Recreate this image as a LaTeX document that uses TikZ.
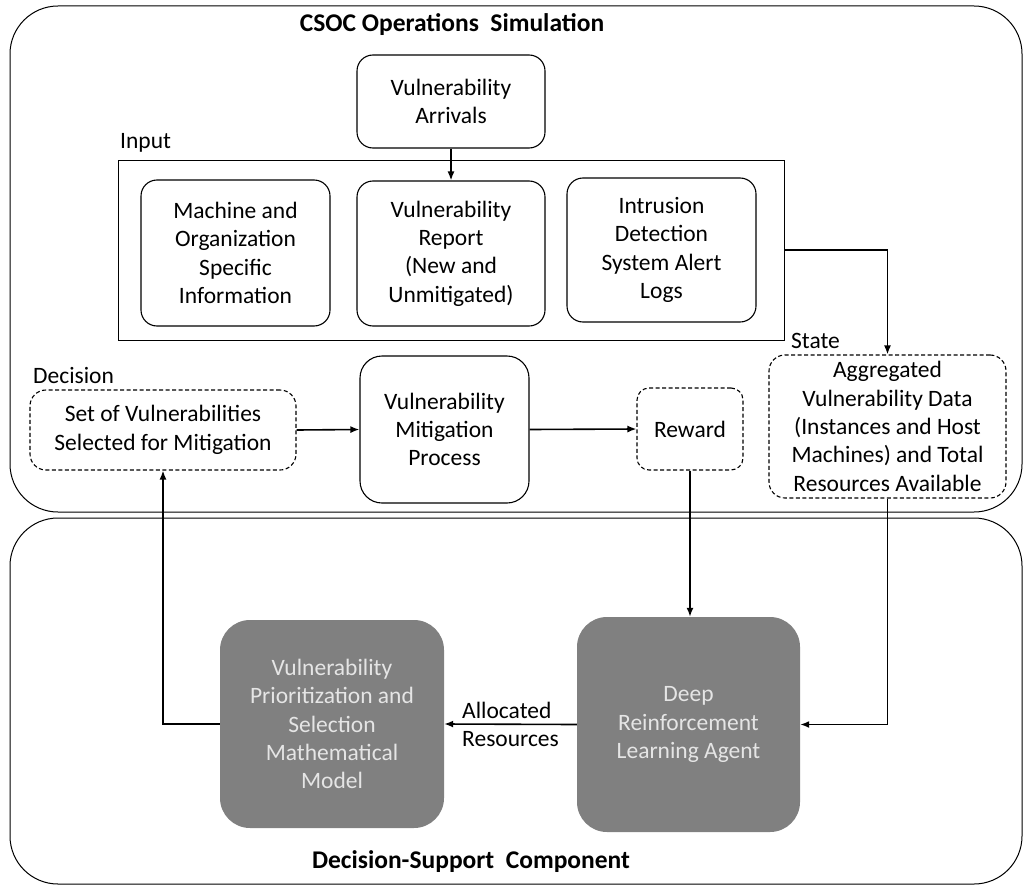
\documentclass[tikz,border=0pt]{standalone}
\usepackage{fontspec}
\setmainfont{Carlito}
\usetikzlibrary{arrows.meta}
\begin{document}
\begin{tikzpicture}[x=1pt,y=-1pt,
  txt/.style={font=\fontsize{23.5}{28.4}\selectfont, align=center, inner sep=0pt},
  rbox/.style={txt, draw, line width=1.1pt, rounded corners=16pt},
  dbox/.style={txt, draw, line width=1.1pt, dash pattern=on 4pt off 2.5pt, rounded corners=16pt},
  gbox/.style={txt, fill=black!50, text=black!10, rounded corners=30pt},
  ttl/.style={font=\bfseries\fontsize{25.5}{30}\selectfont, inner sep=0pt},
  lbl/.style={font=\fontsize{23.5}{28}\selectfont, inner sep=0pt, anchor=west},
  arr/.style={line width=1.6pt, -{Latex[length=9pt,width=7pt]}},
  frame/.style={draw, line width=1pt, rounded corners=48pt}]
\useasboundingbox (0,0) rectangle (1024,888);
% outer frames
\draw[frame] (10,6) rectangle (1022,512);
\draw[frame] (10,518) rectangle (1022,884);
\node[ttl] (t1) at (452,25) {CSOC Operations\ \ Simulation};
\node[ttl] (t2) at (471,862) {Decision-Support\ \ Component};
% input area
\node[draw, line width=1pt, minimum width=666pt, minimum height=180pt, inner sep=0pt] (input) at (451,250) {};
\node[lbl] (linput) at (120,143) {Input};
\node[rbox, minimum width=188pt, minimum height=93pt] (arr) at (451,101.5) {Vulnerability\\Arrivals};
\node[rbox, minimum width=189pt, minimum height=146pt] (mach) at (235.5,253) {Machine and\\Organization\\Specific\\Information};
\node[rbox, minimum width=188pt, minimum height=145pt] (rep) at (451,253.5) {Vulnerability\\Report\\(New and\\Unmitigated)};
\node[rbox, minimum width=189pt, minimum height=144pt] (ids) at (661.5,250) {Intrusion\\Detection\\System Alert\\Logs};
% middle row
\node[lbl] (lstate) at (791,341) {State};
\node[dbox, minimum width=237pt, minimum height=143pt] (state) at (887.5,426.5) {Aggregated\\Vulnerability Data\\(Instances and Host\\Machines) and Total\\Resources Available};
\node[lbl] (ldec) at (33,375) {Decision};
\node[dbox, minimum width=266pt, minimum height=80pt] (dec) at (163,430) {Set of Vulnerabilities\\Selected for Mitigation};
\node[rbox, minimum width=169pt, minimum height=147pt, rounded corners=22pt] (mit) at (444.5,429.5) {Vulnerability\\Mitigation\\Process};
\node[dbox, minimum width=106pt, minimum height=82pt, rounded corners=12pt] (rew) at (690,429) {Reward};
% bottom row
\node[gbox, minimum width=223pt, minimum height=215pt] (drl) at (688.5,724.5) {Deep\\Reinforcement\\Learning Agent};
\node[gbox, minimum width=224pt, minimum height=208pt] (vps) at (332,724) {Vulnerability\\Prioritization and\\Selection\\Mathematical\\Model};
% connectors
\draw[arr] (arr.south) -- (rep.north);
\draw[arr] (input.east) -| (state.north);
\draw[arr] (dec.east) -- (mit.west);
\draw[arr] (mit.east) -- (rew.west);
\draw[arr] (rew.south) -- (rew.south |- drl.north);
\draw[arr] (state.south) |- (drl.east);
\draw[arr] (drl.west) -- (vps.east);
\node[txt, align=left, anchor=west] (alloctxt) at (462,724.5) {Allocated\\Resources};
\draw[arr] (vps.west) -| (dec.south);
\end{tikzpicture}
\end{document}
